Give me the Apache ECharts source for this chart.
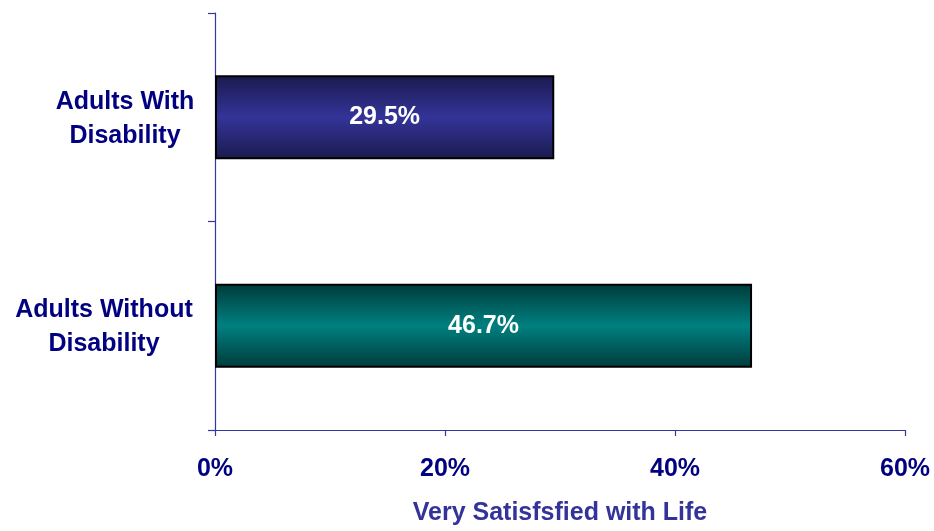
<!DOCTYPE html>
<html>
<head>
<meta charset="utf-8">
<script src="https://cdn.jsdelivr.net/npm/echarts@6/dist/echarts.min.js"></script>
<style>
html,body{margin:0;padding:0;background:#fff;}
#chart{width:934px;height:531px;}
</style>
</head>
<body>
<div id="chart"></div>
<script>
const categories = ['Adults With Disability', 'Adults Without Disability'];
const values = [29.5, 46.7];
const xTicks = [0, 20, 40, 60];
const axisTitle = 'Very Satisfsfied with Life';

const barPalette = [
  { edge: '#1a1a4e', mid: '#343499' },
  { edge: '#003a3a', mid: '#008080' }
];

function grad(p) {
  return new echarts.graphic.LinearGradient(0, 0, 0, 1, [
    { offset: 0, color: p.edge },
    { offset: 0.5, color: p.mid },
    { offset: 1, color: p.edge }
  ]);
}

const chart = echarts.init(document.getElementById('chart'), null, { renderer: 'canvas' });
const FONT = 'Liberation Sans, Arial, sans-serif';
const NAVY = '#000080';
const AXIS = '#3535a5';

chart.setOption({
  animation: false,
  backgroundColor: '#ffffff',
  grid: { left: 215, right: 29, top: 13, bottom: 98, containLabel: false },
  xAxis: {
    type: 'value',
    min: xTicks[0],
    max: xTicks[xTicks.length - 1],
    interval: xTicks[1] - xTicks[0],
    axisLine: { show: true, lineStyle: { color: AXIS, width: 1.2 } },
    axisTick: { show: true, length: 6, inside: false, lineStyle: { color: AXIS, width: 1.2 } },
    splitLine: { show: false },
    axisLabel: {
      formatter: v => v + '%',
      color: NAVY, fontFamily: FONT, fontWeight: 'bold', fontSize: 25, margin: 27
    },
    name: axisTitle,
    nameLocation: 'middle',
    nameGap: 71,
    nameTextStyle: { color: '#333399', fontFamily: FONT, fontWeight: 'bold', fontSize: 25 }
  },
  yAxis: {
    type: 'category',
    data: categories,
    inverse: true,
    axisLine: { show: true, lineStyle: { color: AXIS, width: 1.2 } },
    axisTick: { show: true, length: 7, inside: false, lineStyle: { color: AXIS, width: 1.2 } },
    splitLine: { show: false },
    axisLabel: {
      margin: 19,
      padding: [3, 0, 0, 0],
      formatter: function (v, i) {
        const words = v.split(' ');
        const l1 = words.slice(0, 2).join(' ');
        const l2 = words.slice(2).join(' ');
        const s = i === 0 ? 'a' : 'b';
        return '{' + s + '|' + l1 + '}\n{' + s + '|' + l2 + '}';
      },
      rich: {
        a: { width: 142, align: 'center', color: NAVY, fontFamily: FONT, fontWeight: 'bold', fontSize: 25, lineHeight: 34 },
        b: { width: 184, align: 'center', color: NAVY, fontFamily: FONT, fontWeight: 'bold', fontSize: 25, lineHeight: 34 }
      }
    }
  },
  series: [{
    type: 'bar',
    barWidth: 84,
    data: values.map((v, i) => ({
      value: v,
      itemStyle: { color: grad(barPalette[i]), borderColor: '#000000', borderWidth: 2 }
    })),
    label: {
      show: true,
      position: 'inside',
      formatter: p => p.value.toFixed(1) + '%',
      color: '#ffffff', fontFamily: FONT, fontWeight: 'bold', fontSize: 25
    }
  }]
});
</script>
</body>
</html>
